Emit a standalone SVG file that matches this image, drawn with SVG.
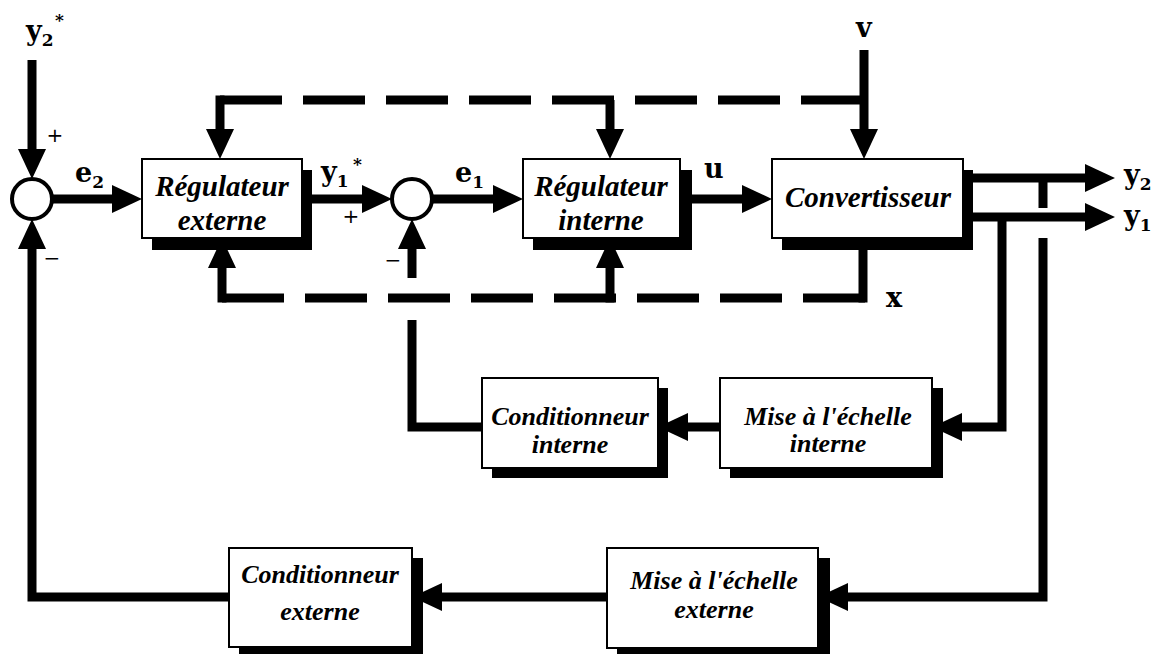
<svg xmlns="http://www.w3.org/2000/svg" width="1159" height="655" viewBox="0 0 1159 655">
  <style>
    .wire { fill: none; stroke: #000; stroke-width: 9; stroke-linecap: butt; stroke-linejoin: miter; }
    .dash { stroke-dasharray: 62 21; }
    .box { fill: #fff; stroke: #000; stroke-width: 2; }
    .shadow { fill: #000; }
    .sum { fill: #fff; stroke: #000; stroke-width: 4; }
    .bt { font-family: "Liberation Serif", "Times New Roman", serif; font-style: italic; font-weight: bold; font-size: 29px; text-anchor: middle; fill: #000; }
    .bt.small { font-size: 26px; }
    .sig { font-family: "DejaVu Serif", "Liberation Serif", serif; font-weight: bold; font-size: 27px; fill: #000; }
    .sub { font-size: 17px; }
    .sign { font-family: "DejaVu Sans", "Liberation Sans", sans-serif; font-size: 20px; text-anchor: middle; fill: #000; }
  </style>
  <defs>
    <marker id="arrow" markerUnits="userSpaceOnUse" viewBox="0 0 30 28" markerWidth="30" markerHeight="28" refX="18" refY="14" orient="auto">
      <path d="M0,0 L30,14 L0,28 z" fill="#000"/>
    </marker>
  </defs>

  <rect width="1159" height="655" fill="#fff"/>

  <!-- connectors -->
  <g id="connectors">
    <!-- main forward path -->
    <path class="wire" d="M32,60 V167" marker-end="url(#arrow)"/>
    <path class="wire" d="M52,199 H130" marker-end="url(#arrow)"/>
    <path class="wire" d="M302,199 H380" marker-end="url(#arrow)"/>
    <path class="wire" d="M432,199 H511" marker-end="url(#arrow)"/>
    <path class="wire" d="M680,199 H760" marker-end="url(#arrow)"/>
    <path class="wire" d="M963,178 H1103" marker-end="url(#arrow)"/>
    <path class="wire" d="M963,217 H1103" marker-end="url(#arrow)"/>
    <!-- disturbance v -->
    <path class="wire" d="M864,50 V147" marker-end="url(#arrow)"/>
    <!-- measured outputs to scaling blocks -->
    <path class="wire" d="M1002,217 V427 H944" marker-end="url(#arrow)"/>
    <path class="wire" d="M1043,178 V208"/>
    <path class="wire" d="M1043,238 V597 H830" marker-end="url(#arrow)"/>
    <!-- inner feedback -->
    <path class="wire" d="M720,427 H670" marker-end="url(#arrow)"/>
    <path class="wire" d="M482,427 H412 V320"/>
    <path class="wire" d="M412,278 V231" marker-end="url(#arrow)"/>
    <!-- outer feedback -->
    <path class="wire" d="M607,597 H424" marker-end="url(#arrow)"/>
    <path class="wire" d="M229,597 H32 V231" marker-end="url(#arrow)"/>
    <!-- dashed information buses -->
    <path class="wire dash" d="M220,100 H864"/>
    <path class="wire" d="M220,95.5 V147" marker-end="url(#arrow)"/>
    <path class="wire" d="M610,100 V147" marker-end="url(#arrow)"/>
    <path class="wire dash" d="M222,298 H866"/>
    <path class="wire" d="M222,302.5 V250" marker-end="url(#arrow)"/>
    <path class="wire" d="M610,302.5 V250" marker-end="url(#arrow)"/>
    <path class="wire" d="M863,238 V302.5"/>
  </g>

  <!-- summing junctions -->
  <g id="sum-outer">
    <circle class="sum" cx="32" cy="199" r="20"/>
  </g>
  <g id="sum-inner">
    <circle class="sum" cx="412" cy="199" r="20"/>
  </g>

  <!-- blocks -->
  <g id="regulateur-externe">
    <rect class="shadow" x="152" y="170" width="160" height="80"/>
    <rect class="box" x="142" y="159" width="160" height="79"/>
    <text class="bt" x="222" y="196">Régulateur</text>
    <text class="bt" x="222" y="230">externe</text>
  </g>
  <g id="regulateur-interne">
    <rect class="shadow" x="533" y="170" width="159" height="80"/>
    <rect class="box" x="523" y="159" width="157" height="79"/>
    <text class="bt" x="601" y="196">Régulateur</text>
    <text class="bt" x="601" y="230">interne</text>
  </g>
  <g id="convertisseur">
    <rect class="shadow" x="782" y="170" width="191" height="80"/>
    <rect class="box" x="772" y="159" width="191" height="79"/>
    <text class="bt" x="868" y="207">Convertisseur</text>
  </g>
  <g id="conditionneur-interne">
    <rect class="shadow" x="492" y="388" width="176" height="90"/>
    <rect class="box" x="482" y="378" width="176" height="90"/>
    <text class="bt small" x="570" y="425">Conditionneur</text>
    <text class="bt small" x="570" y="453">interne</text>
  </g>
  <g id="mise-echelle-interne">
    <rect class="shadow" x="730" y="388" width="213" height="90"/>
    <rect class="box" x="720" y="378" width="212" height="90"/>
    <text class="bt small" x="828" y="425">Mise à l'échelle</text>
    <text class="bt small" x="828" y="452">interne</text>
  </g>
  <g id="conditionneur-externe">
    <rect class="shadow" x="239" y="558" width="184" height="96"/>
    <rect class="box" x="229" y="548" width="183" height="99"/>
    <text class="bt small" x="320" y="583">Conditionneur</text>
    <text class="bt small" x="320" y="620">externe</text>
  </g>
  <g id="mise-echelle-externe">
    <rect class="shadow" x="617" y="558" width="213" height="96"/>
    <rect class="box" x="607" y="548" width="211" height="100"/>
    <text class="bt small" x="714" y="589">Mise à l'échelle</text>
    <text class="bt small" x="714" y="618">externe</text>
  </g>

  <!-- signal names -->
  <g id="labels">
    <text class="sig" x="26" y="40">y<tspan class="sub" dy="6">2</tspan></text>
    <text class="sig sub" x="55" y="26">*</text>
    <text class="sig" x="75" y="182">e<tspan class="sub" dy="6">2</tspan></text>
    <text class="sig" x="321" y="181">y<tspan class="sub" dy="6">1</tspan></text>
    <text class="sig sub" x="353" y="170">*</text>
    <text class="sig" x="455" y="182">e<tspan class="sub" dy="6">1</tspan></text>
    <text class="sig" x="704" y="178">u</text>
    <text class="sig" x="856" y="37">v</text>
    <text class="sig" x="886" y="307">x</text>
    <text class="sig" x="1124" y="184">y<tspan class="sub" dy="6">2</tspan></text>
    <text class="sig" x="1124" y="225">y<tspan class="sub" dy="6">1</tspan></text>
    <text class="sign" x="55" y="142">+</text>
    <text class="sign" x="52" y="265">−</text>
    <text class="sign" x="351" y="223">+</text>
    <text class="sign" x="393" y="267">−</text>
  </g>
</svg>
